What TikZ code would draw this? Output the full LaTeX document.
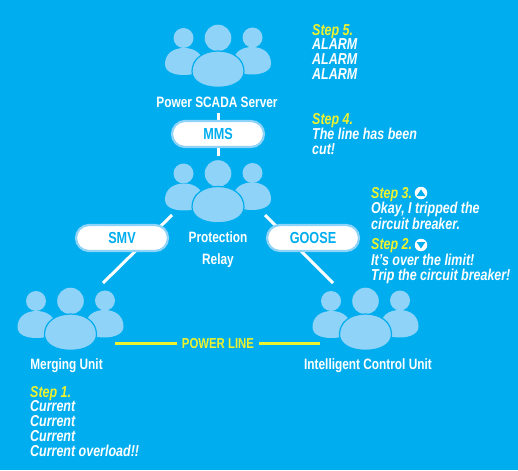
\documentclass[tikz,border=0pt]{standalone}
\usepackage{fontspec}
\setmainfont[FakeStretch=.79]{Liberation Sans}
\definecolor{sky}{HTML}{00AEEF}
\definecolor{pale}{HTML}{8FD3F8}
\definecolor{lemon}{HTML}{EEF22E}
\usetikzlibrary{positioning, calc}
\tikzset{
  pill/.style={draw=pale, line width=2.2pt, fill=white, rounded corners=13pt, minimum width=92pt, minimum height=26pt,
               inner sep=0pt, text=sky, font=\fontsize{16}{17}\selectfont\bfseries},
  link/.style={draw=white, line width=3pt},
  powerlink/.style={draw=lemon, line width=3pt},
  unitname/.style={text=white, inner sep=0pt, align=center, text height=10.8pt, text depth=0pt, font=\fontsize{15}{16}\selectfont\bfseries},
  note/.style={text=white, inner sep=0pt, anchor=north west, align=left, font=\fontsize{15.8}{14.7}\selectfont\bfseries\itshape},
  badge/.style={circle, fill=white, minimum size=12.5pt, inner sep=0pt},
  crowd/.pic={
    \fill[pale] (-34.5,0) circle (10) (34.5,-.5) circle (10) (0,0) circle (13.3);
    \fill[pale] (-53,26) .. controls (-53,16) and (-45,10) .. (-34,10) .. controls (-23,10) and (-15,16) .. (-15,26) .. controls (-15,34) and (-24,37) .. (-34,37) .. controls (-44,37) and (-53,34) .. (-53,26);
    \fill[pale] (53,25.5) .. controls (53,15) and (45,9) .. (34,9) .. controls (23,9) and (15,15) .. (15,25.5) .. controls (15,33) and (24,36.5) .. (34,36.5) .. controls (44,36.5) and (53,33) .. (53,25.5);
    \filldraw[fill=pale,draw=sky,line width=1.2pt] (-26,33.5) .. controls (-26,21) and (-15,13) .. (0,13) .. controls (15,13) and (26,21) .. (26,33.5) .. controls (26,43) and (15,49.3) .. (0,49.3) .. controls (-15,49.3) and (-26,43) .. (-26,33.5);
  },
}
\newcommand{\stepname}[1]{\textcolor{lemon}{#1}}
\begin{document}
\begin{tikzpicture}[x=1pt,y=-1pt]
\fill[sky] (0,0) rectangle (518,470);
\useasboundingbox (0,0) rectangle (518,470);
\pic at (218,38) {crowd};
\pic at (218,173.5) {crowd};
\pic at (70.5,301) {crowd};
\pic at (365.5,301) {crowd};
\node[unitname] (scada) at (217,102) {Power SCADA Server};
\node[unitname] (merging) at (66.5,364.5) {Merging Unit};
\node[unitname] (control) at (368,364.5) {Intelligent Control Unit};
\node[unitname] (relay1) at (218,237) {Protection};
\node[unitname] (relay2) at (218,259) {Relay};
\coordinate (mmsup) at (218,113);
\coordinate (mmsdown) at (218,156);
\coordinate (smvup) at (172,215);
\coordinate (smvdown) at (103,283);
\coordinate (gooseup) at (265,215);
\coordinate (goosedown) at (333,283);
\draw[link] (mmsup)--(mmsdown);
\draw[link] (smvup)--(smvdown);
\draw[link] (gooseup)--(goosedown);
\node[pill] (mms) at (218,134) {MMS};
\node[pill] (smv) at (122,238) {SMV};
\node[pill] (goose) at (313,238) {GOOSE};
\node[text=lemon,inner sep=5pt,font=\fontsize{14.4}{15}\selectfont\bfseries] (power) at (218,343.5) {POWER LINE};
\coordinate (powerleft) at (115,343.5);
\coordinate (powerright) at (320,343.5);
\draw[powerlink] (powerleft)--(power);
\draw[powerlink] (power)--(powerright);
\node[note] (step5) at (312,24) {\stepname{Step 5.}\\ALARM\\ALARM\\ALARM};
\node[note] (step4) at (312,113) {\stepname{Step 4.}\\The line has been\\cut!};
\node[note] (step3) at (371,187) {\stepname{Step 3.}\\Okay, I tripped the\\circuit breaker.};
\node[note] (step2) at (371,238.5) {\stepname{Step 2.}\\It's over the limit!\\Trip the circuit breaker!};
\node[note] (step1) at (30,386) {\stepname{Step 1.}\\Current\\Current\\Current\\Current overload!!};
\node[badge] (tripicon) at (421,193) {};
\fill[sky] ($(tripicon)+(0,-3.6)$)--++(4.4,6.6)--++(-8.8,0)--cycle;
\node[badge] (limiticon) at (421,245) {};
\fill[sky] ($(limiticon)+(0,3.6)$)--++(4.4,-6.6)--++(-8.8,0)--cycle;
\end{tikzpicture}
\end{document}
